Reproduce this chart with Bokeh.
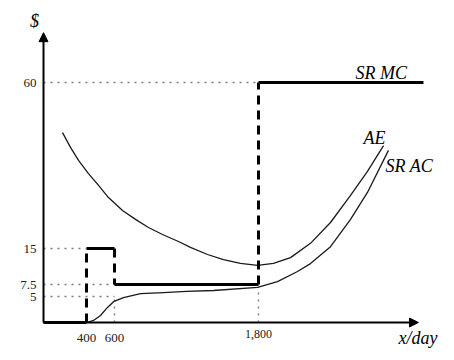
import numpy as np
from bokeh.plotting import figure
from bokeh.models import Range1d, Arrow, NormalHead, ColumnDataSource
from bokeh.core.properties import value
from bokeh.embed import file_html
from bokeh.resources import INLINE

# ---------------- data (economic units) ----------------
Y_TICKS = [5, 7.5, 15, 60]
Y_TICK_LABELS = ["5", "7.5", "15", "60"]
X_TICKS = [400, 600, 1800]
X_TICK_LABELS = ["400", "600", "1,800"]

# SR MC: step function, level on each interval between breaks
MC_BREAKS = [0, 400, 600, 1800, 3175]
MC_LEVELS = [0, 15, 7.5, 60]

# AE curve
AE_X = [177, 251, 326, 414, 486, 557, 667, 775, 883, 1000, 1133, 1233, 1375, 1508,
        1650, 1792, 1925, 2067, 2233, 2400, 2567, 2708, 2842]
AE_Y = [46.4, 42.4, 38.9, 35.3, 32.1, 28.8, 25.3, 22.9, 20.7, 18.8, 16.9, 15.3, 13.75, 12.7,
        11.9, 11.5, 11.9, 13.1, 16.4, 22.05, 29.4, 35.9, 42.9]

# SR AC curve
AC_X = [400, 450, 500, 550, 593, 675, 817, 1008, 1200, 1425, 1792, 1958, 2125, 2233,
        2400, 2567, 2708, 2883]
AC_Y = [0, 0.4, 1.35, 2.9, 4.0, 4.8, 5.6, 5.8, 6.05, 6.25, 6.9, 8.1, 10.2, 11.85,
        15.5, 22.9, 30.2, 41.6]

X_AXIS_MAX = 3133
Y_AXIS_MAX = 73.5

# ---------------- schematic (non-linear) drawing scale ----------------
SX_VAL = [0, 400, 600, 1800, 3200]
SX_PX = [43, 86, 114, 258, 426]
SY_VAL = [0, 5, 7.5, 15, 60, 80]
SY_PX = [322, 296, 284, 248, 82, 8.2]


def fx(v):
    return np.interp(np.asarray(v, dtype=float), SX_VAL, SX_PX)


def fy(v):
    return np.interp(np.asarray(v, dtype=float), SY_VAL, SY_PX)


FONT = value("Liberation Serif")
INK = "#1a1a1a"
GUIDE = "#7a7a7a"

p = figure(width=454, height=360,
           x_range=Range1d(0, 454), y_range=Range1d(360, 0),
           x_axis_type=None, y_axis_type=None,
           toolbar_location=None, output_backend="svg", min_border=0)
p.outline_line_color = None
p.background_fill_color = "white"
p.border_fill_color = "white"

# ---------------- dotted guides ----------------
guide_xs, guide_ys = [], []
guide_ends = {60: 1800, 15: 400, 7.5: 600, 5: 600}
for v in Y_TICKS:
    guide_xs.append(list(fx([0, guide_ends[v]])))
    guide_ys.append(list(fy([v, v])))
# vertical guides at 600 (down from 5) and 1800 (down from SR AC)
guide_xs.append(list(fx([600, 600])))
guide_ys.append(list(fy([0, 5])))
ac_at_1800 = float(np.interp(1800, AC_X, AC_Y))
guide_xs.append(list(fx([1800, 1800])))
guide_ys.append(list(fy([0, ac_at_1800])))
p.multi_line(guide_xs, guide_ys, line_color=GUIDE, line_width=1.4, line_dash="2 5")

# ---------------- axes with arrows ----------------
p.add_layout(Arrow(end=NormalHead(size=9, fill_color="black", line_color="black"),
                   x_start=fx(0), y_start=fy(0), x_end=fx(0), y_end=fy(Y_AXIS_MAX),
                   line_width=2, line_color="black"))
p.add_layout(Arrow(end=NormalHead(size=9, fill_color="black", line_color="black"),
                   x_start=fx(0), y_start=fy(0), x_end=fx(X_AXIS_MAX), y_end=fy(0),
                   line_width=2, line_color="black"))

# ---------------- curves ----------------
p.line(fx(AE_X), fy(AE_Y), line_color=INK, line_width=1.3, line_join="round")
p.line(fx(AC_X), fy(AC_Y), line_color=INK, line_width=1.3, line_join="round")

# SR MC: solid horizontals, dashed verticals
h_xs, h_ys, v_xs, v_ys = [], [], [], []
for i, lvl in enumerate(MC_LEVELS):
    h_xs.append(list(fx([MC_BREAKS[i], MC_BREAKS[i + 1]])))
    h_ys.append(list(fy([lvl, lvl])))
    if i > 0:
        v_xs.append(list(fx([MC_BREAKS[i], MC_BREAKS[i]])))
        v_ys.append(list(fy([MC_LEVELS[i - 1], lvl])))
p.multi_line(h_xs, h_ys, line_color="black", line_width=3)
p.multi_line(v_xs, v_ys, line_color="black", line_width=3, line_dash="9 6")

# ---------------- tick labels ----------------
ysrc = ColumnDataSource(dict(x=fx([0] * len(Y_TICKS)), y=fy(Y_TICKS), t=Y_TICK_LABELS))
p.text("x", "y", text="t", source=ysrc, x_offset=-7, text_align="right",
       text_baseline="middle", text_font=FONT, text_font_size="13px", text_color="#222")

xsrc = ColumnDataSource(dict(x=fx(X_TICKS), y=fy([0] * len(X_TICKS)), t=X_TICK_LABELS,
                             off=[15, 15, 11], fs=["13px", "13px", "12px"]))
p.text("x", "y", text="t", source=xsrc, y_offset="off", text_align="center",
       text_baseline="middle", text_font=FONT, text_font_size="fs", text_color="#222")


# ---------------- axis / curve labels ----------------
def label(x, y, txt, xo, yo, align="left"):
    p.text([x], [y], text=[txt], x_offset=xo, y_offset=yo, text_align=align,
           text_baseline="middle", text_font=FONT, text_font_style="italic",
           text_font_size="18px", text_color="black")


label(fx(0), fy(Y_AXIS_MAX), "$", -9, -12, "center")
label(fx(X_AXIS_MAX), fy(0), "x/day", -20, 15)
label(fx(2608), fy(MC_LEVELS[-1]), "SR MC", 0, -10)
label(fx(AE_X[-1]), fy(AE_Y[-1]), "AE", -20, -8)
label(fx(AC_X[-1]), fy(AC_Y[-1]), "SR AC", -3, 16)

open("out.html", "w").write(file_html(p, INLINE))
